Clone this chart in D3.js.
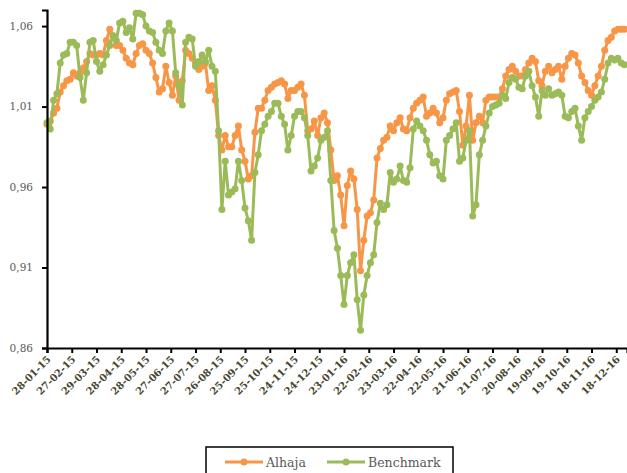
<!DOCTYPE html>
<html>
<head>
<meta charset="utf-8">
<script src="https://cdn.jsdelivr.net/npm/d3@7"></script>
<style>
  body { margin: 0; background: #fff; }
  svg { display: block; }
</style>
</head>
<body>
<svg id="chart" width="627" height="473"></svg>
<script>
// one value every 4 days, starting 28-01-15
var startDate = '28-01-15';
var stepDays = 4;

var alhaja = [
  0.999, 1.001, 1.006, 1.009, 1.019, 1.023, 1.026, 1.027, 1.031, 1.029,
  1.031, 1.034, 1.038, 1.043, 1.042, 1.042, 1.043, 1.042, 1.051, 1.058,
  1.054, 1.048, 1.048, 1.045, 1.040, 1.037, 1.036, 1.043, 1.048, 1.049,
  1.045, 1.043, 1.037, 1.028, 1.019, 1.021, 1.035, 1.025, 1.017, 1.029,
  1.014, 1.026, 1.045, 1.043, 1.040, 1.037, 1.033, 1.035, 1.037, 1.020,
  1.023, 1.014, 0.992, 0.983, 0.992, 0.985, 0.985, 0.992, 0.998, 0.983,
  0.976, 0.965, 0.967, 0.994, 1.009, 1.009, 1.014, 1.020, 1.022, 1.024,
  1.025, 1.026, 1.024, 1.015, 1.020, 1.020, 1.022, 1.024, 1.017, 0.995,
  0.996, 1.001, 0.992, 1.003, 1.006, 1.000, 0.983, 0.964, 0.967, 0.955,
  0.936, 0.961, 0.970, 0.965, 0.946, 0.908, 0.927, 0.942, 0.944, 0.952,
  0.978, 0.984, 0.989, 0.991, 0.998, 0.995, 1.000, 1.003, 0.996, 0.995,
  1.003, 1.009, 1.012, 1.014, 1.016, 1.004, 1.006, 1.009, 1.006, 1.000,
  1.003, 1.014, 1.018, 1.019, 1.020, 1.007, 0.986, 0.998, 1.017, 0.989,
  1.000, 1.004, 1.000, 1.014, 1.016, 1.016, 1.016, 1.016, 1.021, 1.029,
  1.033, 1.035, 1.032, 1.029, 1.029, 1.033, 1.037, 1.040, 1.038, 1.026,
  1.023, 1.032, 1.035, 1.031, 1.033, 1.035, 1.027, 1.035, 1.040, 1.043,
  1.042, 1.037, 1.029, 1.025, 1.020, 1.017, 1.023, 1.029, 1.035, 1.045,
  1.051, 1.053, 1.057, 1.058, 1.058, 1.058
];

var benchmark = [
  1.000, 0.996, 1.014, 1.018, 1.037, 1.042, 1.043, 1.050, 1.050, 1.048,
  1.028, 1.014, 1.031, 1.050, 1.051, 1.038, 1.032, 1.036, 1.042, 1.048,
  1.054, 1.051, 1.062, 1.063, 1.056, 1.059, 1.052, 1.068, 1.068, 1.067,
  1.060, 1.057, 1.056, 1.050, 1.045, 1.043, 1.057, 1.062, 1.057, 1.031,
  1.023, 1.011, 1.050, 1.053, 1.052, 1.035, 1.038, 1.042, 1.038, 1.045,
  1.035, 1.032, 0.995, 0.946, 0.976, 0.955, 0.957, 0.959, 0.976, 0.964,
  0.947, 0.939, 0.927, 0.969, 0.980, 0.995, 0.999, 1.004, 1.007, 1.012,
  1.012, 1.004, 0.999, 0.983, 0.992, 1.004, 1.007, 1.007, 1.003, 0.992,
  0.970, 0.973, 0.978, 0.989, 0.991, 0.995, 0.964, 0.933, 0.922, 0.905,
  0.887, 0.905, 0.913, 0.918, 0.890, 0.871, 0.893, 0.905, 0.913, 0.918,
  0.938, 0.950, 0.946, 0.949, 0.969, 0.963, 0.965, 0.973, 0.964, 0.963,
  0.972, 0.996, 1.001, 0.998, 0.995, 0.989, 0.980, 0.975, 0.976, 0.967,
  0.965, 0.989, 0.992, 0.996, 1.000, 0.976, 0.978, 0.989, 0.995, 0.942,
  0.949, 0.980, 0.989, 0.998, 1.006, 1.010, 1.011, 1.012, 1.017, 1.015,
  1.025, 1.028, 1.027, 1.022, 1.021, 1.029, 1.032, 1.023, 1.016, 1.004,
  1.020, 1.017, 1.021, 1.017, 1.018, 1.019, 1.017, 1.004, 1.003, 1.007,
  1.009, 0.998, 0.989, 1.003, 1.007, 1.010, 1.014, 1.016, 1.019, 1.027,
  1.037, 1.040, 1.039, 1.040, 1.037, 1.036
];

var seriesNames = ['Alhaja', 'Benchmark'];
var seriesColors = ['#F79646', '#9BBB59'];

var xTickLabels = [
  '28-01-15', '27-02-15', '29-03-15', '28-04-15', '28-05-15', '27-06-15',
  '27-07-15', '26-08-15', '25-09-15', '25-10-15', '24-11-15', '24-12-15',
  '23-01-16', '22-02-16', '23-03-16', '22-04-16', '22-05-16', '21-06-16',
  '21-07-16', '20-08-16', '19-09-16', '19-10-16', '18-11-16', '18-12-16'
];
var yTicks = [0.86, 0.91, 0.96, 1.01, 1.06];
var yDomain = [0.86, 1.07];
var xEnd = '31-12-16';

var parse = d3.timeParse('%d-%m-%y');
var t0 = parse(startDate);

var svg = d3.select('#chart');
var margin = { left: 47, right: 0, top: 10, bottom: 125 };
var W = 627, H = 473;

var x = d3.scaleTime()
  .domain([t0, parse(xEnd)])
  .range([margin.left, W - margin.right]);
var y = d3.scaleLinear()
  .domain(yDomain)
  .range([H - margin.bottom, margin.top]);

var comma = function(d) { return d3.format('.2f')(d).replace('.', ','); };

// series -> list of points
var series = [alhaja, benchmark].map(function(vals, k) {
  return {
    name: seriesNames[k],
    color: seriesColors[k],
    points: vals.map(function(v, i) {
      return { date: d3.timeDay.offset(t0, i * stepDays), value: v };
    })
  };
});

var line = d3.line()
  .x(function(d) { return x(d.date); })
  .y(function(d) { return y(d.value); });

var plot = svg.append('g');

series.forEach(function(s) {
  var g = plot.append('g');
  g.append('path')
    .attr('d', line(s.points))
    .attr('fill', 'none')
    .attr('stroke', s.color)
    .attr('stroke-width', 3)
    .attr('stroke-linejoin', 'round');
  g.selectAll('circle').data(s.points).enter().append('circle')
    .attr('cx', function(d) { return x(d.date); })
    .attr('cy', function(d) { return y(d.value); })
    .attr('r', 3.5)
    .attr('fill', s.color);
});

// y axis
var yAxis = svg.append('g')
  .attr('transform', 'translate(' + margin.left + ',0)')
  .call(d3.axisLeft(y).tickValues(yTicks).tickFormat(comma).tickSizeOuter(0).tickSize(5));
yAxis.select('.domain').attr('stroke', '#000').attr('stroke-width', 2.2);
yAxis.selectAll('.tick line').attr('stroke', '#000').attr('stroke-width', 2);
yAxis.selectAll('.tick text')
  .attr('x', -14)
  .attr('font-family', 'DejaVu Serif, serif')
  .attr('font-size', 10.5)
  .attr('fill', '#595959');

// x axis
var xAxis = svg.append('g')
  .attr('transform', 'translate(0,' + (H - margin.bottom) + ')')
  .call(d3.axisBottom(x)
    .tickValues(xTickLabels.map(parse))
    .tickFormat(d3.timeFormat('%d-%m-%y'))
    .tickSizeOuter(0).tickSize(5));
xAxis.select('.domain').attr('stroke', '#000').attr('stroke-width', 2.2);
xAxis.selectAll('.tick line').attr('stroke', '#000').attr('stroke-width', 2);
xAxis.selectAll('.tick text')
  .attr('font-family', 'DejaVu Serif, serif')
  .attr('font-size', 10)
  .attr('font-weight', 'bold')
  .attr('fill', '#46462e')
  .attr('text-anchor', 'end')
  .attr('dy', null)
  .attr('y', 0)
  .attr('transform', 'translate(4,12) rotate(-45)');

// legend
var legend = svg.append('g').attr('transform', 'translate(206,447)');
legend.append('rect')
  .attr('width', 247).attr('height', 40)
  .attr('fill', '#fff').attr('stroke', '#000').attr('stroke-width', 1.5);
var legendX = [19, 121];
series.forEach(function(s, k) {
  var lg = legend.append('g').attr('transform', 'translate(' + legendX[k] + ',15)');
  lg.append('line').attr('x1', 0).attr('x2', 38)
    .attr('stroke', s.color).attr('stroke-width', 3);
  lg.append('circle').attr('cx', 19).attr('r', 3.5).attr('fill', s.color);
  lg.append('text').attr('x', 41).attr('y', 4.5)
    .attr('font-family', 'DejaVu Serif, serif')
    .attr('font-size', 12.5)
    .attr('fill', '#595959')
    .text(s.name);
});
</script>
</body>
</html>
